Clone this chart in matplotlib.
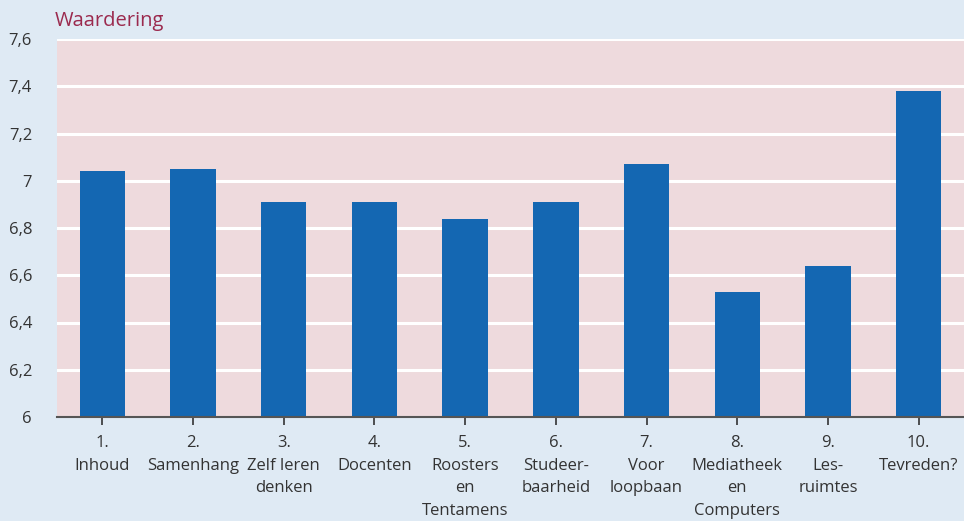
import matplotlib.pyplot as plt
import numpy as np
from matplotlib.ticker import FuncFormatter

plt.rcParams['font.family'] = ['Open Sans', 'DejaVu Sans']

labels = ['1.\nInhoud', '2.\nSamenhang', '3.\nZelf leren\ndenken', '4.\nDocenten',
          '5.\nRoosters\nen\nTentamens', '6.\nStudeer-\nbaarheid', '7.\nVoor\nloopbaan',
          '8.\nMediatheek\nen\nComputers', '9.\nLes-\nruimtes', '10.\nTevreden?']
scores = [7.04, 7.05, 6.91, 6.91, 6.84, 6.91, 7.07, 6.53, 6.64, 7.38]
yticks = [6, 6.2, 6.4, 6.6, 6.8, 7, 7.2, 7.4, 7.6]

fig = plt.figure(figsize=(9.64, 5.21), dpi=100, facecolor='#dfeaf4')
ax = fig.add_axes([57/964, 1 - 417/521, 1 - 57/964, 378/521])
ax.set_facecolor('#eedadd')

x = np.arange(len(scores))
ax.bar(x, scores, width=0.5, color='#1467b2', zorder=3)

ax.set_ylim(6, 7.6)
ax.set_xlim(-0.5, 9.5)
ax.set_yticks(yticks)
ax.yaxis.set_major_formatter(FuncFormatter(lambda v, p: ('%g' % v).replace('.', ',')))
ax.grid(axis='y', color='white', linewidth=2.2, zorder=1)
ax.tick_params(axis='y', length=0, pad=18, labelsize=12, labelcolor='#333333')

ax.set_xticks(x)
ax.set_xticklabels(labels, fontsize=12, color='#333333', linespacing=1.55)
ax.tick_params(axis='x', direction='inout', length=12, width=1.2, color='#333333',
               pad=7)

for s in ['top', 'right', 'left']:
    ax.spines[s].set_visible(False)
ax.spines['bottom'].set_color('#555555')
ax.spines['bottom'].set_linewidth(1.5)
ax.spines['bottom'].set_zorder(4)

fig.text(55/964, 1 - 21/521, 'Waardering', color='#9b2a4e', fontsize=14.5,
         va='center', ha='left')

fig.savefig('out.png', dpi=100, facecolor=fig.get_facecolor())
